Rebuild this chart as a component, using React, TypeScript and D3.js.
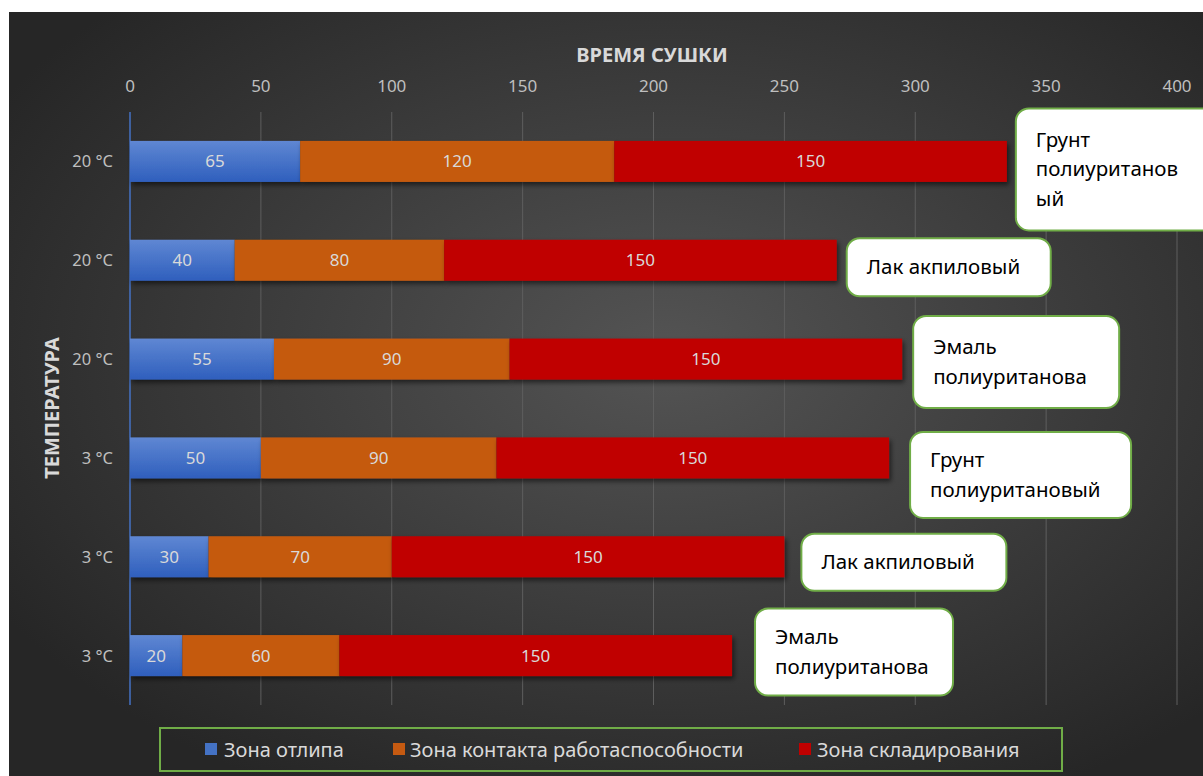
import React from "react";
import * as d3 from "d3";

const categories = ["20 °C", "20 °C", "20 °C", "3 °C", "3 °C", "3 °C"];
const otlip = [65, 40, 55, 50, 30, 20];
const contact = [120, 80, 90, 90, 70, 60];
const storage = [150, 150, 150, 150, 150, 150];
const seriesNames = ["Зона отлипа", "Зона контакта работаспособности", "Зона складирования"];
const seriesColors = ["#4472c4", "#c55a11", "#c00000"];
const xTicks = [0, 50, 100, 150, 200, 250, 300, 350, 400];
const notes = [
  ["Грунт", "полиуританов", "ый"],
  ["Лак акпиловый"],
  ["Эмаль", "полиуританова"],
  ["Грунт", "полиуритановый"],
  ["Лак акпиловый"],
  ["Эмаль", "полиуританова"],
];
// callout box layout: gap after bar end, top offset from row centre, width, height
const noteBoxes = [
  { gap: 9, top: -53, w: 205, h: 122 },
  { gap: 10, top: -22, w: 204, h: 58 },
  { gap: 11, top: -43, w: 206, h: 92 },
  { gap: 21, top: -26, w: 221, h: 86 },
  { gap: 17, top: -23, w: 205, h: 57 },
  { gap: 23, top: -47, w: 198, h: 87 },
];

const FONT = "'Noto Sans', 'Open Sans', sans-serif";

export default function App() {
  const W = 1203, H = 776;
  const x = d3.scaleLinear().domain([0, 400]).range([130, 1177]);
  const y = d3.scaleBand<number>().domain(d3.range(categories.length)).range([112, 705])
    .paddingInner(0.585).paddingOuter(0.2925);

  const rows = categories.map((c, i) => [otlip[i], contact[i], storage[i]]);
  const stacked = d3.stack<number[]>().keys(["0", "1", "2"]).value((d, k) => d[+k])(rows);

  return (
    <svg width={W} height={H} style={{ position: "fixed", left: 0, top: 0 }} fontFamily={FONT}>
      <defs>
        <radialGradient id="bg" cx="0.55" cy="0.45" r="0.65">
          <stop offset="0" stopColor="#545454" />
          <stop offset="1" stopColor="#262626" />
        </radialGradient>
        <linearGradient id="blueGrad" x1="0" y1="0" x2="0" y2="1">
          <stop offset="0" stopColor="#5f87d3" />
          <stop offset="1" stopColor="#2f5fbd" />
        </linearGradient>
        <filter id="shadow" x="-5%" y="-30%" width="110%" height="180%">
          <feDropShadow dx="2" dy="3" stdDeviation="2.5" floodColor="#000" floodOpacity="0.55" />
        </filter>
      </defs>
      <rect width={W} height={H} fill="#fff" />
      <rect x={9} y={12} width={W - 9} height={H - 12} fill="url(#bg)" />

      {/* titles */}
      <text x={652} y={62} textAnchor="middle" fill="#d9d9d9" fontSize={20} fontWeight="bold">ВРЕМЯ СУШКИ</text>
      <text transform="translate(59,408) rotate(-90)" textAnchor="middle" fill="#d9d9d9" fontSize={20} fontWeight="bold">ТЕМПЕРАТУРА</text>

      {/* grid + ticks */}
      {xTicks.map((t) => (
        <g key={t}>
          {t > 0 && <line x1={x(t)} x2={x(t)} y1={112} y2={705} stroke="#5e5e5e" strokeWidth={1} />}
          <text x={x(t)} y={92} textAnchor="middle" fill="#bfbfbf" fontSize={17}>{t}</text>
        </g>
      ))}
      <line x1={x(0)} x2={x(0)} y1={112} y2={705} stroke="#4472c4" strokeWidth={1.5} />

      {/* category labels */}
      {categories.map((c, i) => (
        <text key={i} x={113} y={y(i)! + y.bandwidth() / 2 + 6} textAnchor="end" fill="#bfbfbf" fontSize={16.5}>{c}</text>
      ))}

      {/* bars */}
      {stacked.map((s, si) => (
        <g key={si} filter="url(#shadow)">
          {s.map((d, i) => (
            <rect key={i} x={x(d[0])} y={y(i)} width={x(d[1]) - x(d[0])} height={y.bandwidth()}
              fill={si === 0 ? "url(#blueGrad)" : seriesColors[si]} />
          ))}
        </g>
      ))}
      {stacked.map((s, si) => (
        <g key={"l" + si}>
          {s.map((d, i) => (
            <text key={i} x={(x(d[0]) + x(d[1])) / 2} y={y(i)! + y.bandwidth() / 2 + 6} textAnchor="middle" fill="#d9d9d9" fontSize={17}>
              {d[1] - d[0]}
            </text>
          ))}
        </g>
      ))}

      {/* callouts */}
      {notes.map((lines, i) => {
        const b = noteBoxes[i];
        const end = x(otlip[i] + contact[i] + storage[i]);
        const cy = y(i)! + y.bandwidth() / 2;
        const bx = end + b.gap, by = cy + b.top;
        const lh = 29.5;
        const firstBase = by + b.h / 2 - ((lines.length - 1) * lh) / 2 + 7;
        return (
          <g key={i}>
            <rect x={bx} y={by} width={b.w} height={b.h} rx={13} ry={13} fill="#fff" stroke="#70ad47" strokeWidth={2} />
            {lines.map((l, li) => (
              <text key={li} x={bx + 20} y={firstBase + li * lh} fill="#000" fontSize={20.5}>{l}</text>
            ))}
          </g>
        );
      })}

      {/* legend */}
      <rect x={160} y={728} width={902} height={43} fill="none" stroke="#70ad47" strokeWidth={2} />
      {[{ sx: 205, tx: 224 }, { sx: 393, tx: 410 }, { sx: 799, tx: 817 }].map((p, i) => (
        <g key={i}>
          <rect x={p.sx} y={743} width={12} height={12} fill={seriesColors[i]} />
          <text x={p.tx} y={757} fill="#d9d9d9" fontSize={20}>{seriesNames[i]}</text>
        </g>
      ))}
    </svg>
  );
}
